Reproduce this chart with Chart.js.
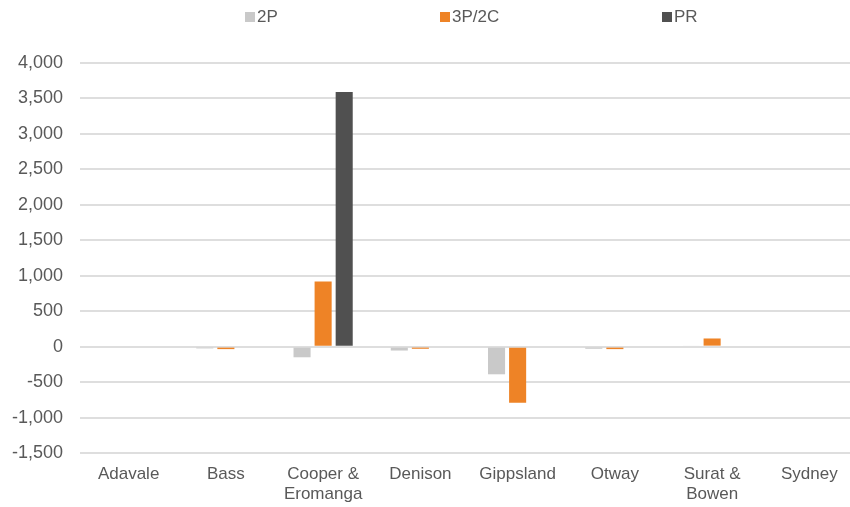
<!DOCTYPE html>
<html>
<head>
<meta charset="utf-8">
<script src="https://cdn.jsdelivr.net/npm/chart.js@4/dist/chart.umd.min.js"></script>
<style>
  html, body { margin: 0; padding: 0; background: #fff; overflow: hidden; }
  #wrap { width: 858px; height: 507px; }
</style>
</head>
<body>
<div id="wrap"><canvas id="c"></canvas></div>
<script>
// Basins along the x axis (multi-line labels as arrays)
const basins = ['Adavale', 'Bass', ['Cooper &', 'Eromanga'], 'Denison', 'Gippsland', 'Otway', ['Surat &', 'Bowen'], 'Sydney'];

// Change by basin for each reserve/resource class
const values2P   = [0, -25, -150, -55, -390, -30, 15, 0];
const values3P2C = [0, -35, 920, -30, -790, -35, 115, 0];
const valuesPR   = [0, 0, 3590, 0, 0, 0, 0, 0];

// Y axis range and step
const yMin = -1500;
const yMax = 4000;
const yStep = 500;

const FONT = "'Liberation Sans', Arial, sans-serif";
const TEXT = '#595959';

// Widely spaced single-row legend drawn across the top of the canvas
const spreadLegend = {
  id: 'spreadLegend',
  afterDraw(chart) {
    const ctx = chart.ctx;
    const starts = [245, 440, 662]; // left edge of each legend item
    const y = 17;
    ctx.save();
    ctx.font = '17px ' + FONT;
    ctx.textBaseline = 'middle';
    ctx.textAlign = 'left';
    chart.data.datasets.forEach((ds, i) => {
      const x = starts[i];
      ctx.fillStyle = ds.backgroundColor;
      ctx.fillRect(x, y - 5, 10, 10);
      ctx.fillStyle = TEXT;
      ctx.fillText(ds.label, x + 12, y);
    });
    ctx.restore();
  }
};

new Chart(document.getElementById('c'), {
  type: 'bar',
  data: {
    labels: basins,
    datasets: [
      { label: '2P', data: values2P, backgroundColor: '#c9c9c9' },
      { label: '3P/2C', data: values3P2C, backgroundColor: '#ee8326' },
      { label: 'PR', data: valuesPR, backgroundColor: '#505050' }
    ]
  },
  plugins: [spreadLegend],
  options: {
    responsive: true,
    maintainAspectRatio: false,
    animation: false,
    datasets: { bar: { categoryPercentage: 0.65, barPercentage: 0.81 } },
    layout: { padding: { left: 12, right: 0, top: 63, bottom: 0 } },
    plugins: {
      tooltip: { enabled: false },
      legend: { display: false }
    },
    scales: {
      x: {
        grid: { display: false, drawTicks: false },
        border: { display: false },
        ticks: { color: TEXT, font: { family: FONT, size: 17, lineHeight: 1.18 }, maxRotation: 0, autoSkip: false, padding: 11 },
        afterFit(scale) { scale.height = 54; }
      },
      y: {
        min: yMin,
        max: yMax,
        ticks: { stepSize: yStep, color: TEXT, font: { family: FONT, size: 18 }, padding: 17 },
        grid: { color: '#dedede', lineWidth: 2, drawTicks: false },
        border: { display: false },
        afterFit(scale) { scale.width = 68; }
      }
    }
  }
});
</script>
</body>
</html>
